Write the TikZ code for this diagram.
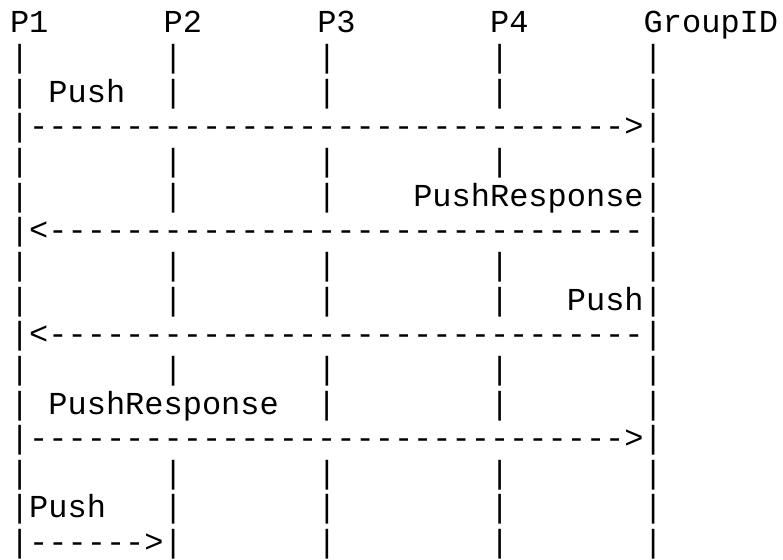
\documentclass[tikz,border=0pt]{standalone}
\usepackage{fontspec}
\setmonofont{Liberation Mono}
\begin{document}
\begin{tikzpicture}[x=1pt,y=1pt,
  asciirow/.style={anchor=base west, inner sep=0pt, outer sep=0pt,
    font=\ttfamily\fontsize{32}{32}\selectfont, text=black}]
\useasboundingbox (0,0) rectangle (783,-559);
\def\rowy#1{-(33+34.64*#1)}
\node[asciirow] (r0)  at (10,{-(33+34.64*0)})  {P1~~~~~~P2~~~~~~P3~~~~~~~P4~~~~~~GroupID};
\node[asciirow] (r1)  at (10,{-(33+34.64*1)})  {|~~~~~~~|~~~~~~~|~~~~~~~~|~~~~~~~|};
\node[asciirow] (r2)  at (10,{-(33+34.64*2)})  {|~Push~~|~~~~~~~|~~~~~~~~|~~~~~~~|};
\node[asciirow] (r3)  at (10,{-(33+34.64*3)})  {|-------------------------------{>}|};
\node[asciirow] (r4)  at (10,{-(33+34.64*4)})  {|~~~~~~~|~~~~~~~|~~~~~~~~|~~~~~~~|};
\node[asciirow] (r5)  at (10,{-(33+34.64*5)})  {|~~~~~~~|~~~~~~~|~~~~PushResponse|};
\node[asciirow] (r6)  at (10,{-(33+34.64*6)})  {|{<}-------------------------------|};
\node[asciirow] (r7)  at (10,{-(33+34.64*7)})  {|~~~~~~~|~~~~~~~|~~~~~~~~|~~~~~~~|};
\node[asciirow] (r8)  at (10,{-(33+34.64*8)})  {|~~~~~~~|~~~~~~~|~~~~~~~~|~~~Push|};
\node[asciirow] (r9)  at (10,{-(33+34.64*9)})  {|{<}-------------------------------|};
\node[asciirow] (r10) at (10,{-(33+34.64*10)}) {|~~~~~~~|~~~~~~~|~~~~~~~~|~~~~~~~|};
\node[asciirow] (r11) at (10,{-(33+34.64*11)}) {|~PushResponse~~|~~~~~~~~|~~~~~~~|};
\node[asciirow] (r12) at (10,{-(33+34.64*12)}) {|-------------------------------{>}|};
\node[asciirow] (r13) at (10,{-(33+34.64*13)}) {|~~~~~~~|~~~~~~~|~~~~~~~~|~~~~~~~|};
\node[asciirow] (r14) at (10,{-(33+34.64*14)}) {|Push~~~|~~~~~~~|~~~~~~~~|~~~~~~~|};
\node[asciirow] (r15) at (10,{-(33+34.64*15)}) {|------{>}|~~~~~~~|~~~~~~~~|~~~~~~~|};
\end{tikzpicture}
\end{document}
